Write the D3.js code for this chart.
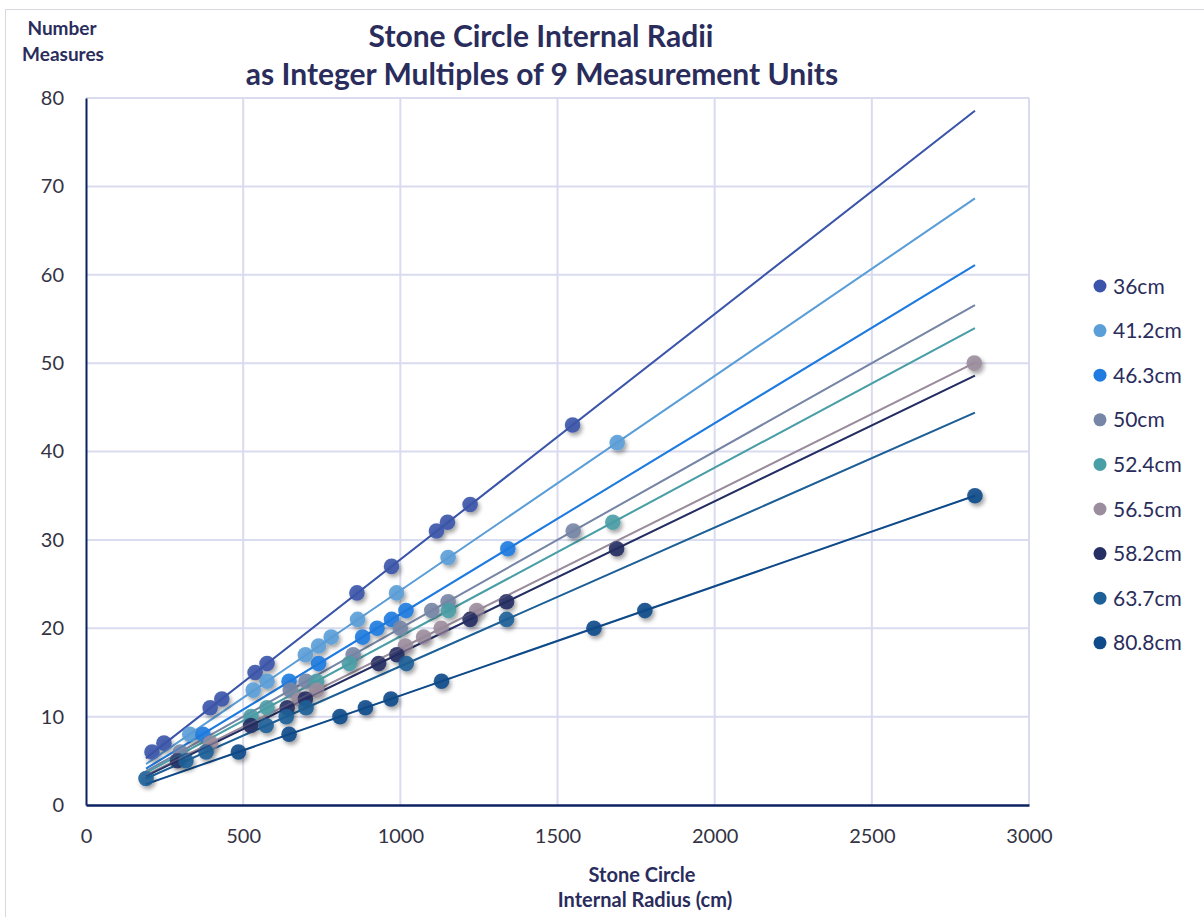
<!DOCTYPE html>
<html>
<head>
<meta charset="utf-8">
<script src="https://cdn.jsdelivr.net/npm/d3@7"></script>
<style>
  html, body { margin: 0; padding: 0; background: #ffffff; }
  svg { display: block; }
  text { font-family: Lato, "Open Sans", "DejaVu Sans", sans-serif; }
</style>
</head>
<body>
<svg id="chart" width="1204" height="917"></svg>
<script>
// Unit lengths (cm) and their legend labels
const unitLabels = ["36cm", "41.2cm", "46.3cm", "50cm", "52.4cm", "56.5cm", "58.2cm", "63.7cm", "80.8cm"];
const unitValues = [36, 41.2, 46.3, 50, 52.4, 56.5, 58.2, 63.7, 80.8];

// Internal radius (cm) of each stone circle and its count of whole units
const radii36   = [210, 248, 395, 432, 538, 576, 862, 972, 1115, 1150, 1222, 1548];
const counts36  = [6, 7, 11, 12, 15, 16, 24, 27, 31, 32, 34, 43];
const radii412  = [330, 532, 576, 698, 740, 780, 864, 988, 1152, 1690];
const counts412 = [8, 13, 14, 17, 18, 19, 21, 24, 28, 41];
const radii463  = [372, 646, 740, 880, 926, 972, 1018, 1342];
const counts463 = [8, 14, 16, 19, 20, 21, 22, 29];
const radii50   = [300, 650, 700, 850, 1000, 1100, 1152, 1550];
const counts50  = [6, 13, 14, 17, 20, 22, 23, 31];
const radii524  = [525, 576, 734, 838, 1153, 1676];
const counts524 = [10, 11, 14, 16, 22, 32];
const radii565  = [396, 678, 734, 1016, 1074, 1130, 1243, 2826];
const counts565 = [7, 12, 13, 18, 19, 20, 22, 50];
const radii582  = [291, 524, 640, 698, 931, 989, 1222, 1338, 1688];
const counts582 = [5, 9, 11, 12, 16, 17, 21, 23, 29];
const radii637  = [191, 318, 382, 573, 637, 700, 1019, 1338];
const counts637 = [3, 5, 6, 9, 10, 11, 16, 21];
const radii808  = [485, 646, 808, 889, 970, 1131, 1616, 1778, 2828];
const counts808 = [6, 8, 10, 11, 12, 14, 20, 22, 35];

const radiiBySeries  = [radii36, radii412, radii463, radii50, radii524, radii565, radii582, radii637, radii808];
const countsBySeries = [counts36, counts412, counts463, counts50, counts524, counts565, counts582, counts637, counts808];

// Axis ticks
const xTicks = [0, 500, 1000, 1500, 2000, 2500, 3000];
const yTicks = [0, 10, 20, 30, 40, 50, 60, 70, 80];

// Series colours
const colors = ["#3b55aa", "#5b9fd8", "#1f7be0", "#7786a6", "#4a9fa7", "#9b8d9d", "#252f63", "#1e6098", "#0f4a8a"];

const svg = d3.select("#chart");
const plotLeft = 86, plotRight = 1029, plotTop = 98, plotBottom = 805;

const x = d3.scaleLinear().domain([0, 3000]).range([plotLeft, plotRight]);
const y = d3.scaleLinear().domain([0, 80]).range([plotBottom, plotTop]);

const defs = svg.append("defs");
const shadow = defs.append("filter").attr("id", "dotShadow")
  .attr("x", "-60%").attr("y", "-60%").attr("width", "220%").attr("height", "220%");
shadow.append("feDropShadow").attr("dx", 2).attr("dy", 3).attr("stdDeviation", 2)
  .attr("flood-color", "#000").attr("flood-opacity", 0.4);

// Outer frame
svg.append("rect").attr("x", 5.5).attr("y", 9.5).attr("width", 1250).attr("height", 1000)
  .attr("fill", "none").attr("stroke", "#d8d8e0").attr("stroke-width", 1);

// Gridlines
svg.append("g").selectAll("line").data(yTicks.filter(d => d > 0)).join("line")
  .attr("x1", plotLeft).attr("x2", plotRight)
  .attr("y1", d => y(d)).attr("y2", d => y(d))
  .attr("stroke", "#d9dbef").attr("stroke-width", 2);
svg.append("g").selectAll("line").data(xTicks.filter(d => d > 0)).join("line")
  .attr("x1", d => x(d)).attr("x2", d => x(d))
  .attr("y1", plotTop).attr("y2", plotBottom)
  .attr("stroke", "#d9dbef").attr("stroke-width", 2);

// Axes
const xAxis = svg.append("g").attr("transform", `translate(0,${plotBottom})`)
  .call(d3.axisBottom(x).tickValues(xTicks).tickSize(0).tickPadding(24).tickFormat(d3.format("d")));
const yAxis = svg.append("g").attr("transform", `translate(${plotLeft},0)`)
  .call(d3.axisLeft(y).tickValues(yTicks).tickSize(0).tickPadding(22).tickFormat(d3.format("d")));
xAxis.select(".domain").attr("stroke", "#0b2160").attr("stroke-width", 2.5);
yAxis.select(".domain").attr("stroke", "#0b2160").attr("stroke-width", 2);
[xAxis, yAxis].forEach(g => g.selectAll("text")
  .attr("fill", "#333344").style("font-size", "20px").style("font-family", "Lato, sans-serif"));

// Reference lines: count = radius / unit across the radius range
const allRadii = radiiBySeries.flat();
const [rMin, rMax] = d3.extent(allRadii);
const line = d3.line().x(d => x(d[0])).y(d => y(d[1]));

const plot = svg.append("g");
unitValues.forEach((u, i) => {
  plot.append("path")
    .datum([[rMin, rMin / u], [rMax, rMax / u]])
    .attr("d", line)
    .attr("fill", "none")
    .attr("stroke", colors[i])
    .attr("stroke-width", 2);
});

// Data points
unitValues.forEach((u, i) => {
  const pts = radiiBySeries[i].map((r, j) => [r, countsBySeries[i][j]]);
  plot.append("g").attr("filter", "url(#dotShadow)")
    .selectAll("circle").data(pts).join("circle")
    .attr("cx", d => x(d[0])).attr("cy", d => y(d[1]))
    .attr("r", 7.8)
    .attr("fill", colors[i])
    .attr("fill-opacity", 0.9);
});

// Lines drawn faintly again over the markers
unitValues.forEach((u, i) => {
  plot.append("path")
    .datum([[rMin, rMin / u], [rMax, rMax / u]])
    .attr("d", line)
    .attr("fill", "none")
    .attr("stroke", colors[i])
    .attr("stroke-opacity", 0.35)
    .attr("stroke-width", 1.5);
});

// Titles
const titleColor = "#2a2d5c";
svg.append("text").attr("x", 541).attr("y", 47).attr("text-anchor", "middle")
  .attr("fill", titleColor).style("font-size", "30px").style("font-weight", "bold")
  .text("Stone Circle Internal Radii");
svg.append("text").attr("x", 542).attr("y", 85).attr("text-anchor", "middle")
  .attr("fill", titleColor).style("font-size", "30px").style("font-weight", "bold")
  .text("as Integer Multiples of 9 Measurement Units");

svg.append("text").attr("x", 62).attr("y", 35).attr("text-anchor", "middle")
  .attr("fill", titleColor).style("font-size", "19px").style("font-weight", "bold")
  .text("Number");
svg.append("text").attr("x", 63).attr("y", 61).attr("text-anchor", "middle")
  .attr("fill", titleColor).style("font-size", "19px").style("font-weight", "bold")
  .text("Measures");

svg.append("text").attr("x", 642).attr("y", 882).attr("text-anchor", "middle")
  .attr("fill", titleColor).style("font-size", "20px").style("font-weight", "bold")
  .text("Stone Circle");
svg.append("text").attr("x", 645).attr("y", 907).attr("text-anchor", "middle")
  .attr("fill", titleColor).style("font-size", "20px").style("font-weight", "bold")
  .text("Internal Radius (cm)");

// Legend
const legend = svg.append("g").attr("transform", "translate(1100,286)");
const rows = legend.selectAll("g").data(unitLabels).join("g")
  .attr("transform", (d, i) => `translate(0,${i * 44.6})`);
rows.append("circle").attr("r", 6.5).attr("fill", (d, i) => colors[i]);
rows.append("text").attr("x", 13).attr("dy", "0.36em")
  .attr("fill", titleColor).style("font-size", "21px")
  .text(d => d);
</script>
</body>
</html>
